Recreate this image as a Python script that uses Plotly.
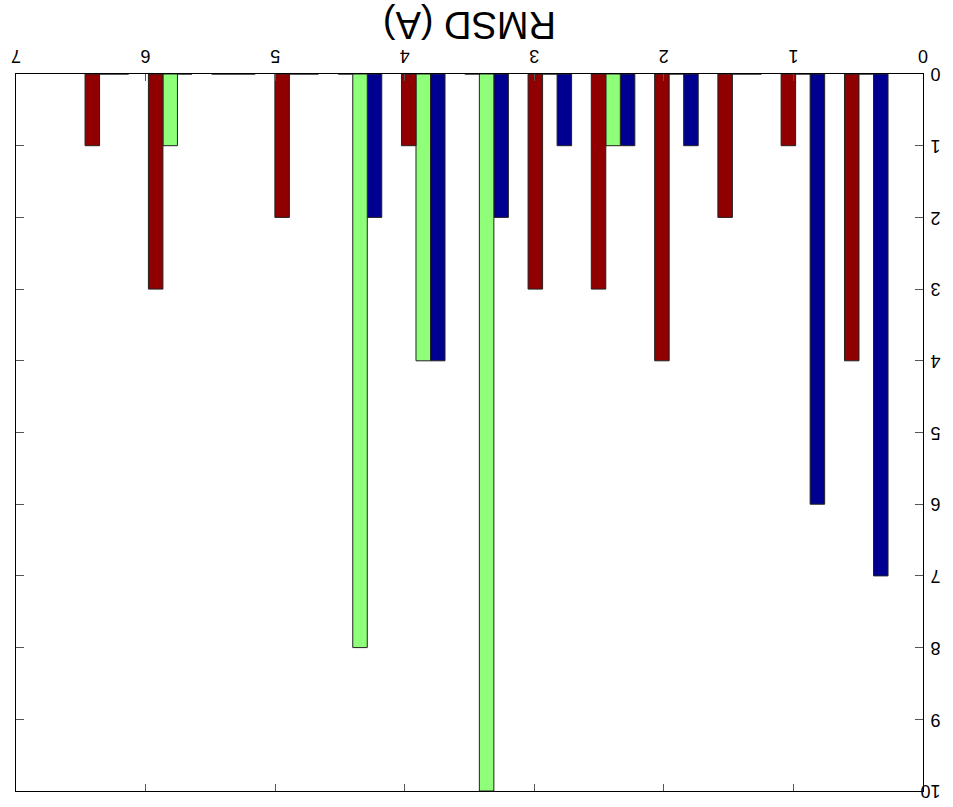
import plotly.graph_objects as go

# Cluster positions on RMSD axis (Å)
rmsd = [0.438, 0.927, 1.415, 1.903, 2.392, 2.880, 3.368, 3.857, 4.345, 4.834, 5.322, 5.810, 6.299]
# Counts per series
series_red = [4, 1, 2, 4, 3, 3, 0, 1, 0, 2, 0, 3, 1]
series_green = [0, 0, 0, 0, 1, 0, 10, 4, 8, 0, 0, 1, 0]
series_blue = [7, 6, 0, 1, 1, 1, 2, 4, 2, 0, 0, 0, 0]

x_ticks = [0, 1, 2, 3, 4, 5, 6, 7]
y_ticks = [0, 1, 2, 3, 4, 5, 6, 7, 8, 9, 10]

FONT = "Arial, Liberation Sans, sans-serif"
BW = 0.112

fig = go.Figure()
for vals, color, off in [
    (series_blue, "#000090", -1.5 * BW),
    (series_green, "#8fff7a", -0.5 * BW),
    (series_red, "#900000", 0.5 * BW),
]:
    fig.add_trace(go.Bar(
        x=rmsd, y=vals, width=BW, offset=off,
        marker=dict(color=color, line=dict(color="#222222", width=1)),
        showlegend=False,
    ))

fig.update_layout(
    width=953, height=807,
    margin=dict(l=16, r=30, t=74, b=16),
    paper_bgcolor="white", plot_bgcolor="white",
    barmode="overlay",
    font=dict(family=FONT, size=18, color="black"),
    xaxis=dict(
        range=[7, 0], side="top", tickangle=180, automargin=False,
        tickvals=x_ticks, ticktext=[str(v) for v in x_ticks],
        ticks="inside", ticklen=7, tickcolor="#555555",
        showline=True, linecolor="black", linewidth=1, mirror="ticks",
        showgrid=False, zeroline=False,
        ticklabelstandoff=-2, ticklabelshift=-5,
        tickfont=dict(size=18, family=FONT),
    ),
    yaxis=dict(
        range=[10, 0], side="right", tickangle=180, automargin=False,
        tickvals=y_ticks, ticktext=[str(v) for v in y_ticks],
        ticks="inside", ticklen=8, tickcolor="#555555",
        showline=True, linecolor="black", linewidth=1, mirror="ticks",
        showgrid=False, zeroline=False,
        ticklabelstandoff=13, ticklabelshift=-6,
        tickfont=dict(size=18, family=FONT),
    ),
    annotations=[dict(
        text="RMSD (A)", textangle=180,
        xref="paper", yref="paper", x=0.5, y=1.068,
        xanchor="center", yanchor="middle", showarrow=False,
        font=dict(size=38, family=FONT, color="black"),
    )],
)

fig.write_html("out.html")
